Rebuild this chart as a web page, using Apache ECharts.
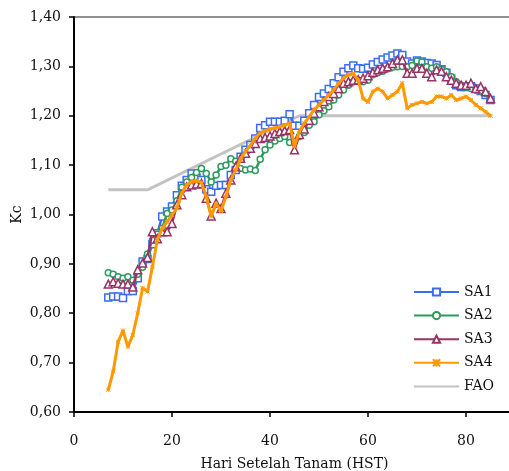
<!DOCTYPE html>
<html>
<head>
<meta charset="utf-8">
<script src="https://cdn.jsdelivr.net/npm/echarts@6/dist/echarts.min.js"></script>
<style>html,body{margin:0;padding:0;background:#fff;}#c{width:509px;height:471px;}</style>
</head>
<body>
<div id="c"></div>
<script>
const days = [7,8,9,10,11,12,13,14,15,16,17,18,19,20,21,22,23,24,25,26,27,28,29,30,31,32,33,34,35,36,37,38,39,40,41,42,43,44,45,46,47,48,49,50,51,52,53,54,55,56,57,58,59,60,61,62,63,64,65,66,67,68,69,70,71,72,73,74,75,76,77,78,79,80,81,82,83,84,85];
const sa1 = [0.832,0.834,0.834,0.831,0.845,0.845,0.871,0.905,0.91,0.94,0.962,0.996,1.006,1.016,1.039,1.058,1.07,1.083,1.075,1.07,1.051,1.046,1.058,1.06,1.06,1.08,1.09,1.117,1.131,1.141,1.154,1.175,1.181,1.188,1.188,1.188,1.19,1.203,1.18,1.18,1.19,1.205,1.222,1.238,1.245,1.254,1.266,1.278,1.289,1.296,1.302,1.296,1.295,1.297,1.304,1.309,1.314,1.318,1.322,1.326,1.323,1.31,1.306,1.312,1.31,1.307,1.306,1.303,1.294,1.287,1.275,1.262,1.258,1.258,1.26,1.255,1.25,1.242,1.232];
const sa2 = [0.882,0.879,0.874,0.871,0.874,0.867,0.879,0.893,0.92,0.948,0.96,0.972,1.002,1.009,1.028,1.055,1.066,1.075,1.085,1.093,1.083,1.066,1.08,1.097,1.10,1.113,1.108,1.093,1.09,1.092,1.089,1.112,1.131,1.141,1.149,1.154,1.158,1.146,1.148,1.158,1.166,1.181,1.188,1.202,1.21,1.218,1.232,1.242,1.252,1.262,1.269,1.272,1.269,1.272,1.283,1.287,1.29,1.295,1.298,1.299,1.3,1.299,1.302,1.311,1.309,1.299,1.296,1.299,1.294,1.289,1.279,1.269,1.262,1.258,1.255,1.252,1.25,1.245,1.232];
const sa3 = [0.859,0.864,0.861,0.859,0.859,0.853,0.888,0.902,0.913,0.965,0.951,0.965,0.965,0.982,1.02,1.04,1.056,1.06,1.062,1.063,1.033,0.997,1.023,1.012,1.043,1.07,1.097,1.114,1.124,1.134,1.144,1.154,1.156,1.159,1.164,1.168,1.17,1.172,1.131,1.162,1.173,1.191,1.205,1.218,1.229,1.239,1.245,1.255,1.266,1.269,1.272,1.273,1.276,1.281,1.288,1.293,1.296,1.299,1.306,1.313,1.313,1.286,1.286,1.296,1.296,1.286,1.279,1.293,1.29,1.279,1.272,1.266,1.262,1.262,1.266,1.255,1.259,1.249,1.235];
const sa4 = [0.645,0.682,0.742,0.765,0.732,0.756,0.80,0.851,0.844,0.894,0.948,0.972,0.985,0.999,1.013,1.043,1.06,1.066,1.068,1.065,1.036,0.996,1.022,1.007,1.036,1.07,1.09,1.112,1.128,1.14,1.155,1.165,1.17,1.173,1.175,1.178,1.181,1.185,1.138,1.168,1.185,1.198,1.212,1.222,1.232,1.242,1.252,1.266,1.276,1.283,1.285,1.272,1.235,1.228,1.249,1.255,1.249,1.235,1.242,1.249,1.266,1.215,1.222,1.225,1.228,1.225,1.228,1.239,1.239,1.235,1.242,1.232,1.235,1.239,1.232,1.222,1.215,1.208,1.2];
const faoDays = [7,15,46,85];
const fao = [1.05,1.05,1.2,1.2];
const xTicks = [0,20,40,60,80];
const yTicks = [0.6,0.7,0.8,0.9,1.0,1.1,1.2,1.3,1.4];

const pair = (xs, ys) => xs.map((x, i) => [x, ys[i]]);
const FONT = 'DejaVu Serif';
const chart = echarts.init(document.getElementById('c'), null, {renderer: 'canvas'});
const crossPath = 'path://M0,0L10,10M10,0L0,10M5,0L5,10M0,5L10,5';
const mk = (name, data, color, symbol, size, width, z) => ({
  name, type: 'line', data, z,
  symbol, symbolSize: size, showSymbol: true,
  lineStyle: {color, width},
  itemStyle: {color: '#fff', borderColor: color, borderWidth: 1.5},
  emphasis: {disabled: true}, animation: false
});
chart.setOption({
  animation: false,
  backgroundColor: '#fff',
  grid: {left: 74, top: 17, bottom: 59, width: 441, outerBoundsMode: 'none', containLabel: false,
    show: true, borderColor: '#222', borderWidth: 1, backgroundColor: 'transparent'},
  xAxis: {
    type: 'value', min: 0, max: 90, interval: 20,
    name: 'Hari Setelah Tanam (HST)', nameLocation: 'middle', nameGap: 45, nameMoveOverlap: false,
    nameTextStyle: {fontFamily: FONT, fontSize: 14, color: '#111'},
    axisLine: {show: true, lineStyle: {color: '#000', width: 2}},
    axisTick: {show: true, length: 5, lineStyle: {color: '#000', width: 1.5}},
    axisLabel: {fontFamily: FONT, fontSize: 14, color: '#111', margin: 22, showMaxLabel: false,
      formatter: v => xTicks.includes(v) ? String(v) : ''},
    splitLine: {show: false}
  },
  yAxis: {
    type: 'value', min: 0.6, max: 1.4, interval: 0.1,
    name: 'Kc', nameLocation: 'middle', nameGap: 50, nameRotate: 90, nameMoveOverlap: false,
    nameTextStyle: {fontFamily: FONT, fontSize: 14, color: '#111'},
    axisLine: {show: true, lineStyle: {color: '#000', width: 2}},
    axisTick: {show: true, length: 5, lineStyle: {color: '#000', width: 1.5}},
    axisLabel: {fontFamily: FONT, fontSize: 14, color: '#111', margin: 13,
      formatter: v => {
        const t = yTicks.find(y => Math.abs(y - v) < 1e-6);
        return t === undefined ? '' : t.toFixed(2).replace('.', ',');
      }},
    splitLine: {show: false}
  },
  legend: {
    orient: 'vertical', left: 408, top: 280,
    itemWidth: 45, itemHeight: 9, itemGap: 9.6,
    textStyle: {fontFamily: FONT, fontSize: 14, color: '#111'},
    data: ['SA1','SA2','SA3','SA4',{name: 'FAO', itemStyle: {opacity: 0}}]
  },
  series: [
    {name: 'FAO', type: 'line', data: pair(faoDays, fao), z: 1, symbol: 'none', showSymbol: false,
      lineStyle: {color: '#c3c3c3', width: 3}, itemStyle: {color: '#c3c3c3'}, emphasis: {disabled: true}},
    mk('SA1', pair(days, sa1), '#3a6cf4', 'rect', 7, 2.5, 2),
    mk('SA2', pair(days, sa2), '#2f9a5e', 'circle', 6, 2.5, 3),
    mk('SA3', pair(days, sa3), '#993366', 'triangle', 8, 2.5, 4),
    Object.assign(mk('SA4', pair(days, sa4), '#ff9900', crossPath, 4, 3, 5), {itemStyle: {color: '#ff9900', borderColor: '#ff9900', borderWidth: 1}})
  ]
});
</script>
</body>
</html>
